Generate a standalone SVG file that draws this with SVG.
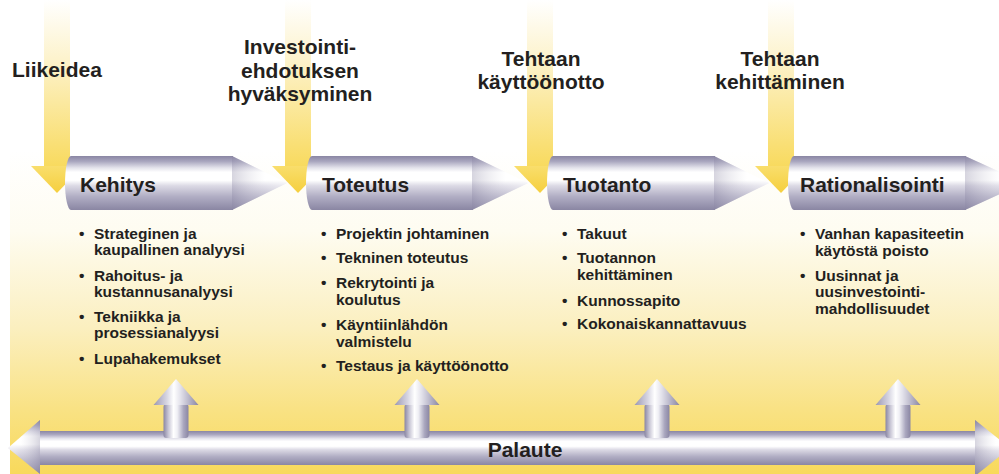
<svg xmlns="http://www.w3.org/2000/svg" width="999" height="474" viewBox="0 0 999 474">
<style>
text{font-family:"Liberation Sans",Arial,Helvetica,sans-serif;font-weight:bold;fill:#231f20}
.big{font-size:21px}
.li{font-size:15.5px}
.mid{text-anchor:middle}
.cyl{fill:url(#gCyl)}
.cone{fill:url(#gCyl)}
.coneS{fill:url(#gConeS)}
.cap{fill:url(#gCap)}
.dbar{fill:url(#gDownBar)}
.dhead{fill:url(#gDownHead)}
.ushaft{fill:url(#gUp)}
.uhead{fill:url(#gUpHead)}
</style>
<defs>
<linearGradient id="gBg" x1="0" y1="0" x2="0" y2="1">
<stop offset="0" stop-color="#ffffff"/>
<stop offset="0.25" stop-color="#fefcf1"/>
<stop offset="0.55" stop-color="#fbefbf"/>
<stop offset="0.8" stop-color="#f9e284"/>
<stop offset="1" stop-color="#f8d95b"/>
</linearGradient>
<linearGradient id="gCyl" x1="0" y1="0" x2="0" y2="1">
<stop offset="0" stop-color="#8a86a3"/>
<stop offset="0.1" stop-color="#a9a6bf"/>
<stop offset="0.22" stop-color="#e4e3ec"/>
<stop offset="0.3" stop-color="#ffffff"/>
<stop offset="0.45" stop-color="#ffffff"/>
<stop offset="0.55" stop-color="#dcdae5"/>
<stop offset="0.75" stop-color="#b1aec4"/>
<stop offset="1" stop-color="#8a86a3"/>
</linearGradient>
<linearGradient id="gConeS" x1="0" y1="0" x2="1" y2="0">
<stop offset="0" stop-color="#8a86a3" stop-opacity="0.35"/>
<stop offset="0.6" stop-color="#ffffff" stop-opacity="0.2"/>
<stop offset="1" stop-color="#ffffff" stop-opacity="0.5"/>
</linearGradient>
<linearGradient id="gConeSL" x1="1" y1="0" x2="0" y2="0">
<stop offset="0" stop-color="#8a86a3" stop-opacity="0.35"/>
<stop offset="0.6" stop-color="#ffffff" stop-opacity="0.2"/>
<stop offset="1" stop-color="#ffffff" stop-opacity="0.5"/>
</linearGradient>
<linearGradient id="gCap" x1="0" y1="0" x2="0" y2="1">
<stop offset="0" stop-color="#8a86a3"/>
<stop offset="0.35" stop-color="#c4c2d3"/>
<stop offset="0.6" stop-color="#b3b0c5"/>
<stop offset="1" stop-color="#807c9a"/>
</linearGradient>
<linearGradient id="gDownBar" x1="0" y1="0" x2="0" y2="1">
<stop offset="0" stop-color="#ffffff"/>
<stop offset="0.35" stop-color="#fdf3cd"/>
<stop offset="1" stop-color="#f8da5e"/>
</linearGradient>
<linearGradient id="gDownHead" x1="0" y1="0" x2="0" y2="1">
<stop offset="0" stop-color="#f9de6c"/>
<stop offset="1" stop-color="#f5cf3e"/>
</linearGradient>
<linearGradient id="gUp" x1="0" y1="0" x2="1" y2="0">
<stop offset="0" stop-color="#8a86a3"/>
<stop offset="0.2" stop-color="#c9c7d6"/>
<stop offset="0.4" stop-color="#ffffff"/>
<stop offset="0.55" stop-color="#f0f0f5"/>
<stop offset="0.8" stop-color="#aaa7bf"/>
<stop offset="1" stop-color="#8a86a3"/>
</linearGradient>
<linearGradient id="gUpHead" x1="0" y1="0" x2="1" y2="0">
<stop offset="0" stop-color="#9a97b2"/>
<stop offset="0.3" stop-color="#d8d7e3"/>
<stop offset="0.45" stop-color="#ffffff"/>
<stop offset="0.6" stop-color="#e3e2eb"/>
<stop offset="1" stop-color="#8a86a3"/>
</linearGradient>
</defs>

<rect id="background" x="10" y="150" width="989" height="324" fill="url(#gBg)"/>

<g id="feedback">
<rect class="cyl" x="38" y="431" width="940" height="34"/>
<polygon class="cone" points="40,420 8,448 40,474"/>
<polygon points="40,420 8,448 40,474" fill="url(#gConeSL)"/>
<polygon class="cone" points="975,420 1010,448 975,476"/>
<polygon points="975,420 1010,448 975,476" class="coneS"/>
<text class="big mid" x="525" y="457">Palaute</text>
</g>

<g id="connectors">
<g id="milestone-arrows">
<rect class="dbar" x="44" y="0" width="26" height="167"/>
<polygon class="dhead" points="31,166 83,166 57,193"/>
<rect class="dbar" x="285" y="0" width="26" height="167"/>
<polygon class="dhead" points="272,166 324,166 298,193"/>
<rect class="dbar" x="527" y="0" width="26" height="167"/>
<polygon class="dhead" points="514,166 566,166 540,193"/>
<rect class="dbar" x="768" y="0" width="26" height="167"/>
<polygon class="dhead" points="755,166 807,166 781,193"/>
</g>
<g id="feedback-arrows">
<rect class="ushaft" x="163.5" y="404" width="25" height="34" rx="3"/>
<polygon class="uhead" points="153.5,405 198.5,405 176,379"/>
<rect class="ushaft" x="404.5" y="404" width="25" height="34" rx="3"/>
<polygon class="uhead" points="394.5,405 439.5,405 417,379"/>
<rect class="ushaft" x="644.5" y="404" width="25" height="34" rx="3"/>
<polygon class="uhead" points="634.5,405 679.5,405 657,379"/>
<rect class="ushaft" x="885.5" y="404" width="25" height="34" rx="3"/>
<polygon class="uhead" points="875.5,405 920.5,405 898,379"/>
</g>
</g>

<g id="stage-kehitys">
<path class="cyl" d="M71,156 L233,156 L233,210 L71,210 A6,27 0 0 1 71,156 Z"/>
<polygon class="cone" points="232,156 287,183 232,210"/>
<polygon class="coneS" points="232,156 287,183 232,210"/>
<text class="big" x="80" y="192">Kehitys</text>
</g>
<g id="stage-toteutus">
<path class="cyl" d="M312,156 L473,156 L473,210 L312,210 A6,27 0 0 1 312,156 Z"/>
<polygon class="cone" points="472,156 528,183 472,210"/>
<polygon class="coneS" points="472,156 528,183 472,210"/>
<text class="big" x="322" y="192">Toteutus</text>
</g>
<g id="stage-tuotanto">
<path class="cyl" d="M553,156 L715,156 L715,210 L553,210 A6,27 0 0 1 553,156 Z"/>
<polygon class="cone" points="714,156 769,183 714,210"/>
<polygon class="coneS" points="714,156 769,183 714,210"/>
<text class="big" x="563" y="192">Tuotanto</text>
</g>
<g id="stage-rationalisointi">
<path class="cyl" d="M794,156 L966,156 L966,210 L794,210 A6,27 0 0 1 794,156 Z"/>
<polygon class="cone" points="965,156 1024,183 965,210"/>
<polygon class="coneS" points="965,156 1024,183 965,210"/>
<text class="big" x="800" y="192">Rationalisointi</text>
</g>

<g id="milestone-liikeidea">
<text class="big" x="12" y="77">Liikeidea</text>
</g>
<g id="milestone-investointi">
<text class="big mid" x="300" y="54">Investointi-</text>
<text class="big mid" x="300" y="78">ehdotuksen</text>
<text class="big mid" x="300" y="101">hyväksyminen</text>
</g>
<g id="milestone-kayttoonotto">
<text class="big mid" x="541" y="66">Tehtaan</text>
<text class="big mid" x="541" y="89">käyttöönotto</text>
</g>
<g id="milestone-kehittaminen">
<text class="big mid" x="780" y="66">Tehtaan</text>
<text class="big mid" x="780" y="89">kehittäminen</text>
</g>

<g id="list-kehitys">
<text class="li" x="79" y="239">•</text>
<text class="li" x="94" y="239">Strateginen ja</text>
<text class="li" x="94" y="255">kaupallinen analyysi</text>
<text class="li" x="79" y="281">•</text>
<text class="li" x="94" y="281">Rahoitus- ja</text>
<text class="li" x="94" y="297">kustannusanalyysi</text>
<text class="li" x="79" y="322">•</text>
<text class="li" x="94" y="322">Tekniikka ja</text>
<text class="li" x="94" y="338">prosessianalyysi</text>
<text class="li" x="79" y="364">•</text>
<text class="li" x="94" y="364">Lupahakemukset</text>
</g>
<g id="list-toteutus">
<text class="li" x="321" y="239">•</text>
<text class="li" x="336" y="239">Projektin johtaminen</text>
<text class="li" x="321" y="263">•</text>
<text class="li" x="336" y="263">Tekninen toteutus</text>
<text class="li" x="321" y="288">•</text>
<text class="li" x="336" y="288">Rekrytointi ja</text>
<text class="li" x="336" y="305">koulutus</text>
<text class="li" x="321" y="330">•</text>
<text class="li" x="336" y="330">Käyntiinlähdön</text>
<text class="li" x="336" y="347">valmistelu</text>
<text class="li" x="321" y="371">•</text>
<text class="li" x="336" y="371">Testaus ja käyttöönotto</text>
</g>
<g id="list-tuotanto">
<text class="li" x="562" y="239">•</text>
<text class="li" x="577" y="239">Takuut</text>
<text class="li" x="562" y="263">•</text>
<text class="li" x="577" y="263">Tuotannon</text>
<text class="li" x="577" y="280">kehittäminen</text>
<text class="li" x="562" y="306">•</text>
<text class="li" x="577" y="306">Kunnossapito</text>
<text class="li" x="562" y="329">•</text>
<text class="li" x="577" y="329">Kokonaiskannattavuus</text>
</g>
<g id="list-rationalisointi">
<text class="li" x="800" y="239">•</text>
<text class="li" x="815" y="239">Vanhan kapasiteetin</text>
<text class="li" x="815" y="256">käytöstä poisto</text>
<text class="li" x="800" y="281">•</text>
<text class="li" x="815" y="281">Uusinnat ja</text>
<text class="li" x="815" y="297">uusinvestointi-</text>
<text class="li" x="815" y="314">mahdollisuudet</text>
</g>
</svg>
